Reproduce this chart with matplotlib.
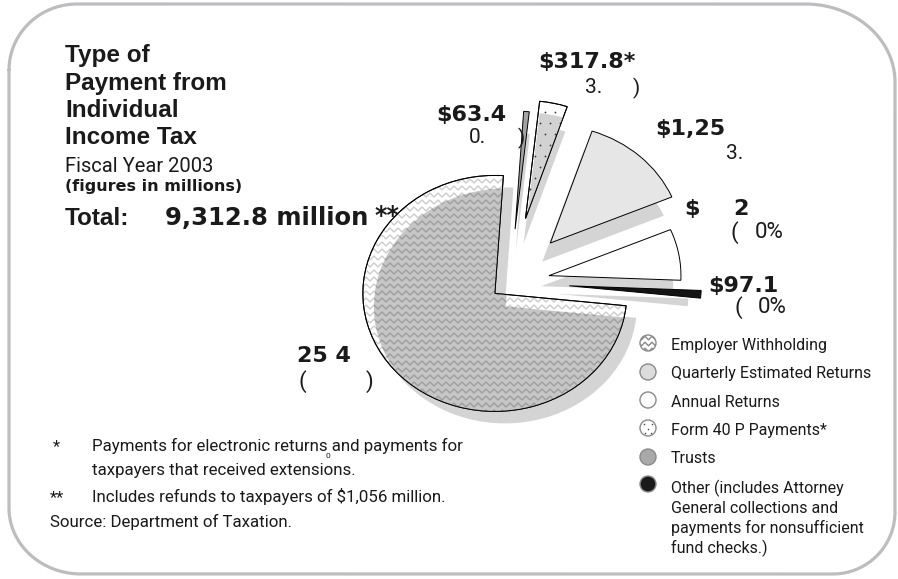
import numpy as np
import matplotlib
matplotlib.use("Agg")
import matplotlib.pyplot as plt
from matplotlib.patches import Wedge, Ellipse
from matplotlib.collections import LineCollection

# ---------------- data ($ millions, fiscal year 2003) ----------------
categories = [
    "Employer Withholding",
    "Quarterly Estimated Returns",
    "Annual Returns",
    "Form 40 P Payments*",
    "Trusts",
    "Other (includes Attorney\nGeneral collections and\npayments for nonsufficient\nfund checks.)",
]
amounts = [6925.4, 1257.0, 652.1, 317.8, 63.4, 97.1]
total_amount = 9312.8
refunds = 1056

# ---------------- styling ----------------
face_colors = ["#ffffff", "#e6e6e6", "#ffffff", "#ffffff", "#a3a3a3", "#141414"]
legend_faces = ["#ffffff", "#dcdcdc", "#ffffff", "#ffffff", "#a9a9a9", "#1a1a1a"]
explode = [0.15, 0.45, 0.30, 0.55, 0.45, 0.45]
pie_order = [5, 2, 1, 3, 4, 0]          # counter-clockwise, starting on the right
start_angle = -6

W, H = 898, 579
CX, CY = 510, 282       # pie centre (pixels from top-left)
RX, RY = 132, 118       # ellipse radii in pixels


def X(px):
    return (np.asarray(px, float) - CX) / RX


def Y(py):
    return (CY - np.asarray(py, float)) / RY


fig = plt.figure(figsize=(W / 100, H / 100), dpi=100)
fig.patch.set_facecolor("white")
ax = fig.add_axes([0, 0, 1, 1])

vals = [amounts[i] for i in pie_order]
expl = [explode[i] for i in pie_order]
cols = [face_colors[i] for i in pie_order]
k_emp = pie_order.index(0)
k_form = pie_order.index(3)

# drop shadows
shadow_expl = [e if k == k_emp else e * 0.75 for k, e in enumerate(expl)]
shadows, _ = ax.pie(vals, explode=shadow_expl, startangle=start_angle, radius=1,
                    center=(2 / RX, -9 / RY), colors=["#d4d4d4"] * len(vals),
                    wedgeprops=dict(linewidth=0))
# main slices
wedges, _ = ax.pie(vals, explode=expl, startangle=start_angle, radius=1,
                   center=(0, 0), colors=cols,
                   wedgeprops=dict(edgecolor="black", linewidth=0.7))
for w in shadows:
    w.set_zorder(1)
for w in wedges:
    w.set_zorder(2)
ec = wedges[k_emp].center
shadows[k_emp].set_center((ec[0] + 10 / RX, ec[1] - 12 / RY))


def inner_shade(k, color, dx_px, dy_px):
    w = wedges[k]
    c = w.center
    inner = Wedge((c[0] + dx_px / RX, c[1] - dy_px / RY), w.r, w.theta1, w.theta2,
                  facecolor=color, edgecolor="none", zorder=2.2)
    ax.add_patch(inner)
    inner.set_clip_path(w)


def outline(k):
    w = wedges[k]
    ax.add_patch(Wedge(w.center, w.r, w.theta1, w.theta2, facecolor="none",
                       edgecolor="black", linewidth=0.7, zorder=3))


def zigzag_segments(x0, x1, y0, y1, row_step=7.0, period=8.0, amp=2.0):
    segs = []
    xs = np.arange(x0, x1 + period, period / 2)
    sign = np.where(np.arange(len(xs)) % 2 == 0, -1.0, 1.0)
    for yy in np.arange(y0, y1, row_step):
        ys = yy + amp * sign
        segs.append(np.column_stack([X(xs), Y(ys)]))
    return segs


# employer withholding: wavy texture with a darker inner face
inner_shade(k_emp, "#c6c6c6", 11, 13)
zz = LineCollection(zigzag_segments(350, 650, 160, 430), colors="black",
                    alpha=0.2, linewidths=1.0, zorder=2.5)
ax.add_collection(zz)
zz.set_clip_path(wedges[k_emp])
outline(k_emp)

# form 40 P: dotted texture
inner_shade(k_form, "#d2d2d2", 0, 12)
gx, gy = [], []
for j, py in enumerate(np.arange(90, 235, 11)):
    for px in np.arange(495 + (j % 2) * 5, 615, 10):
        gx.append(px)
        gy.append(py)
dots = ax.scatter(X(gx), Y(gy), s=1.6, color="#333333", zorder=2.6, linewidths=0)
dots.set_clip_path(wedges[k_form])
outline(k_form)

# ---------------- frame ----------------
def rounded_frame(x0, y0, x1, y1, r_tl, r_tr, r_br, r_bl, n=40):
    pts = []
    corners = [((x0 + r_tl[0], y0 + r_tl[1]), r_tl, 180, 90),
               ((x1 - r_tr[0], y0 + r_tr[1]), r_tr, 90, 0),
               ((x1 - r_br[0], y1 - r_br[1]), r_br, 0, -90),
               ((x0 + r_bl[0], y1 - r_bl[1]), r_bl, -90, -180)]
    for (cx, cy), (rx, ry), a0, a1 in corners:
        t = np.radians(np.linspace(a0, a1, n))
        pts.append(np.column_stack([cx + rx * np.cos(t), cy - ry * np.sin(t)]))
    pts = np.vstack(pts + [pts[0][:1]])
    return pts[:, 0], pts[:, 1]


fx, fy = rounded_frame(9, 4, 895, 574, (68, 66), (90, 78), (62, 62), (72, 66))
ax.plot(X(fx), Y(fy), color="#bdbdc0", linewidth=2.3, zorder=0.5,
        solid_capstyle="round")

# ---------------- text ----------------
BOLD = dict(family=["Liberation Sans", "DejaVu Sans"], weight="bold")
HEAVY = dict(family=["DejaVu Sans"], weight="bold")
LIGHT = dict(family=["Roboto", "DejaVu Sans"], weight="normal")


def put(px, py, s, size, font, color="#1a1a1a", ha="left"):
    ax.text(X(px), Y(py), s, fontsize=size, color=color, ha=ha, va="baseline",
            zorder=5, **font)


for s, py in zip(["Type of", "Payment from", "Individual", "Income Tax"],
                 [62, 90, 117, 144]):
    put(65, py, s, 17.5, BOLD)
put(65, 172, "Fiscal Year 2003", 14.5, LIGHT)
put(65, 191, "(figures in millions)", 11.5, HEAVY)
put(65, 225, "Total:", 17.5, BOLD)
put(165, 225, f"{total_amount:,.1f} million", 17.5, HEAVY)
put(374, 223, "**", 17, HEAVY)

# slice labels
put(538, 68, f"${amounts[3]:,.1f}*", 16, HEAVY)
put(585, 93, "3.", 15, LIGHT)
put(633, 94, ")", 15, LIGHT)

put(436, 121, f"${amounts[4]:,.1f}", 16, HEAVY)
put(469, 143, "0.", 15, LIGHT)
put(518, 144, ")", 15, LIGHT)

put(655, 135, "$1,25", 16, HEAVY)
put(726, 159, "3.", 15, LIGHT)

put(684, 215, "$", 16, HEAVY)
put(733, 215, "2", 16, HEAVY)
put(731, 239, "(", 16, LIGHT)
put(755, 238, "0%", 16, LIGHT)

put(708, 292, f"${amounts[5]:,.1f}", 16, HEAVY)
put(735, 314, "(", 16, LIGHT)
put(758, 313, "0%", 16, LIGHT)

put(297, 362, "25 4", 16, HEAVY)
put(298, 388, "(", 16, LIGHT)
put(366, 388, ")", 16, LIGHT)

# legend
leg_y = [343, 372, 400, 428, 457, 484]
text_base = [350, 378, 407, 435, 463, 493]
for i, (cat, my, ty) in enumerate(zip(categories, leg_y, text_base)):
    mk = Ellipse((X(648), Y(my)), 16 / RX, 16 / RY, facecolor=legend_faces[i],
                 edgecolor="#8a8a8a", linewidth=1.0, zorder=4)
    ax.add_patch(mk)
    if i == 0:
        lz = LineCollection(zigzag_segments(638, 660, 338, 352, row_step=6,
                                            period=7, amp=1.8),
                            colors="#888888", linewidths=1.0, zorder=4.2)
        ax.add_collection(lz)
        lz.set_clip_path(mk)
    if i == 3:
        ax.scatter(X([644, 652, 648, 645, 651]), Y([424, 424, 429, 433, 433]),
                   s=1.2, color="#444444", zorder=4.2, linewidths=0)
    for j, line in enumerate(cat.split("\n")):
        put(671, ty + j * 20, line, 11.5, LIGHT)

# footnotes
put(53, 451, "*", 12, LIGHT)
put(92, 451, "Payments for electronic returns and payments for", 12.2, LIGHT)
put(92, 475, "taxpayers that received extensions.", 12.2, LIGHT)
put(326, 458, "0", 6, LIGHT)
put(50, 502, "**", 12, LIGHT)
put(92, 502, f"Includes refunds to taxpayers of ${refunds:,} million.", 12.2, LIGHT)
put(50, 527, "Source: Department of Taxation.", 12.2, LIGHT)

ax.set_aspect("auto")
ax.set_xlim(X(0), X(W))
ax.set_ylim(Y(H), Y(0))
ax.axis("off")

fig.savefig("out.png", dpi=100, facecolor="white")
